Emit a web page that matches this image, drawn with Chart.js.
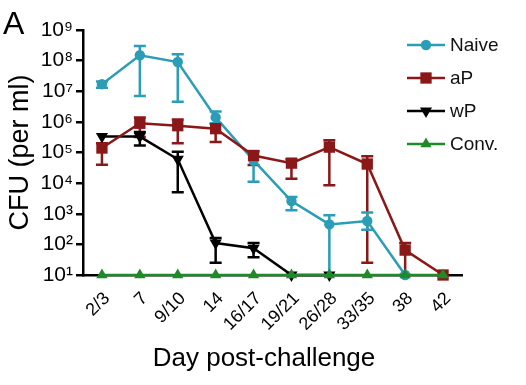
<!DOCTYPE html>
<html>
<head>
<meta charset="utf-8">
<script src="https://cdn.jsdelivr.net/npm/chart.js@4.4.1/dist/chart.umd.min.js"></script>
<style>
  html, body { margin: 0; padding: 0; background: #fff; }
  #wrap { width: 526px; height: 385px; }
</style>
</head>
<body>
<div id="wrap"><canvas id="chart" width="526" height="385"></canvas></div>
<script>
// x categories (day post-challenge)
const days = ['2/3', '7', '9/10', '14', '16/17', '19/21', '26/28', '33/35', '38', '42'];

// y ticks
const yTickValues = [1e1, 1e2, 1e3, 1e4, 1e5, 1e6, 1e7, 1e8, 1e9];
const yTickLabels = ['10¹', '10²', '10³', '10⁴', '10⁵', '10⁶', '10⁷', '10⁸', '10⁹'];

// CFU per ml, means and error bar ends
const naive   = [1.7e7, 1.5e8, 9e7, 1.4e6, 5.5e4, 2.6e3, 450, 580, 10, null];
const naiveHi = [2.1e7, 3e8, 1.6e8, 2.2e6, 1.1e5, 3.5e3, 900, 1.1e3, null, null];
const naiveLo = [1.3e7, 7e6, 4.5e6, 9e5, 1.1e4, 1.3e3, 10, 300, null, null];

const aP   = [1.4e5, 9e5, 7.5e5, 6e5, 8e4, 4.5e4, 1.5e5, 4.2e4, 65, 10];
const aPHi = [2e5, 1.4e6, 1.2e6, 8.5e5, 1.1e5, 6e4, 2.5e5, 7.5e4, 110, null];
const aPLo = [4e4, 3.2e5, 2e5, 2.2e5, 3.9e4, 1.4e4, 8.5e3, 25, 10, null];

const wP   = [3.3e5, 3.3e5, 6e4, 110, 75, 10, 10, null, null, null];
const wPHi = [null, 4.7e5, 1.05e5, 160, 110, null, null, null, null, null];
const wPLo = [null, 1.7e5, 5e3, 25, 38, null, null, null, null, null];

const conv = [10, 10, 10, 10, 10, 10, 10, 10, 10, 10];

const FONT = "'Liberation Sans', Arial, Helvetica, sans-serif";

const errorBars = {
    id: 'errorBars',
    beforeDatasetsDraw(chart) {
        const ctx = chart.ctx;
        const x = chart.scales.x;
        const y = chart.scales.y;
        chart.data.datasets.forEach(ds => {
            if (!ds.errHi) return;
            ctx.save();
            ctx.strokeStyle = ds.borderColor;
            ctx.lineWidth = 2.5;
            ds.data.forEach((v, i) => {
                const hi = ds.errHi[i];
                const lo = ds.errLo[i];
                if (v == null || hi == null) return;
                const px = x.getPixelForValue(i);
                const pHi = y.getPixelForValue(hi);
                const pLo = y.getPixelForValue(lo);
                ctx.beginPath();
                ctx.moveTo(px, pHi);
                ctx.lineTo(px, pLo);
                ctx.moveTo(px - 6, pHi);
                ctx.lineTo(px + 6, pHi);
                ctx.moveTo(px - 6, pLo);
                ctx.lineTo(px + 6, pLo);
                ctx.stroke();
            });
            ctx.restore();
        });
    }
};

// legend, panel letter and x title
const extras = {
    id: 'extras',
    afterDraw(chart) {
        const ctx = chart.ctx;
        ctx.save();
        ctx.fillStyle = '#000';
        ctx.font = '32px ' + FONT;
        ctx.textAlign = 'left';
        ctx.textBaseline = 'alphabetic';
        ctx.fillText('A', 3, 34);

        ctx.font = '26px ' + FONT;
        ctx.textAlign = 'center';
        ctx.fillText('Day post-challenge', 264, 366);

        const rows = [45, 78, 111, 144];
        chart.data.datasets.forEach(ds => {
            const ly = rows[ds.legendIndex];
            ctx.strokeStyle = ds.borderColor;
            ctx.lineWidth = 2.5;
            ctx.beginPath();
            ctx.moveTo(407, ly);
            ctx.lineTo(445, ly);
            ctx.stroke();
            ctx.fillStyle = ds.backgroundColor;
            Chart.helpers.drawPoint(ctx, {
                pointStyle: ds.pointStyle,
                radius: ds.pointRadius,
                rotation: ds.pointRotation || 0,
                borderWidth: 0
            }, 426, ly);
            ctx.fillStyle = '#111';
            ctx.font = '19px ' + FONT;
            ctx.textAlign = 'left';
            ctx.textBaseline = 'middle';
            ctx.fillText(ds.label, 450, ly + 1);
        });
        ctx.restore();
    }
};

function series(label, data, color, style, radius, rot, hi, lo, order, legendIndex) {
    return {
        label: label,
        data: data,
        borderColor: color,
        backgroundColor: color,
        borderWidth: 2.5,
        pointStyle: style,
        pointRadius: radius,
        pointHoverRadius: radius,
        pointRotation: rot,
        pointBorderWidth: 0,
        tension: 0,
        spanGaps: false,
        clip: false,
        errHi: hi,
        errLo: lo,
        order: order,
        legendIndex: legendIndex
    };
}

new Chart(document.getElementById('chart'), {
    type: 'line',
    data: {
        labels: days,
        datasets: [
            series('Conv.', conv, '#1f8a2a', 'triangle', 6.5, 0, null, null, 0, 3),
            series('aP', aP, '#8b1818', 'rect', 8, 0, aPHi, aPLo, 1, 1),
            series('Naive', naive, '#2b9db6', 'circle', 5.2, 0, naiveHi, naiveLo, 2, 0),
            series('wP', wP, '#000000', 'triangle', 7, 180, wPHi, wPLo, 3, 2)
        ]
    },
    options: {
        responsive: false,
        animation: false,
        layout: { padding: { left: 0, top: 30, right: 64, bottom: 0 } },
        plugins: {
            legend: { display: false },
            tooltip: { enabled: false }
        },
        scales: {
            x: {
                offset: true,
                afterFit: s => { s.height = 110; },
                grid: { display: false, drawTicks: false },
                border: { display: true, color: '#000', width: 2.5 },
                ticks: {
                    color: '#000',
                    font: { family: FONT, size: 18 },
                    minRotation: 45,
                    maxRotation: 45,
                    padding: 13,
                    labelOffset: 5,
                    autoSkip: false
                }
            },
            y: {
                type: 'logarithmic',
                min: 10,
                max: 1e9,
                afterFit: s => { s.width = 83; },
                afterBuildTicks: s => { s.ticks = yTickValues.map(v => ({ value: v })); },
                grid: { drawOnChartArea: false, drawTicks: true, tickLength: 7, color: '#000', lineWidth: 2.5 },
                border: { display: true, color: '#000', width: 2.5 },
                ticks: {
                    color: '#000',
                    font: { family: FONT, size: 21 },
                    padding: 3,
                    callback: (v) => {
                        const i = yTickValues.indexOf(v);
                        return i >= 0 ? yTickLabels[i] : '';
                    }
                },
                title: {
                    display: true,
                    text: 'CFU (per ml)',
                    color: '#000',
                    font: { family: FONT, size: 27 },
                    padding: { top: 4, bottom: 0 }
                }
            }
        }
    },
    plugins: [errorBars, extras]
});
</script>
</body>
</html>
